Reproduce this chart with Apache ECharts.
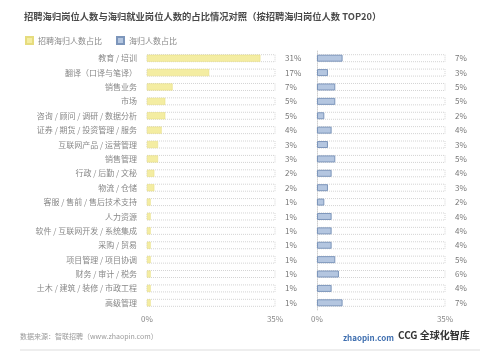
<!DOCTYPE html>
<html>
<head>
<meta charset="utf-8">
<script src="https://cdn.jsdelivr.net/npm/echarts@6/dist/echarts.min.js"></script>
<style>
  html, body { margin: 0; padding: 0; background: #fff; }
  #main { width: 500px; height: 362px; }
</style>
</head>
<body>
<div id="main"></div>
<script>
// 岗位类别（按招聘海归岗位人数 TOP）
var categories = [
  '教育 / 培训', '翻译（口译与笔译）', '销售业务', '市场',
  '咨询 / 顾问 / 调研 / 数据分析', '证券 / 期货 / 投资管理 / 服务',
  '互联网产品 / 运营管理', '销售管理', '行政 / 后勤 / 文秘',
  '物流 / 仓储', '客服 / 售前 / 售后技术支持', '人力资源',
  '软件 / 互联网开发 / 系统集成', '采购 / 贸易', '项目管理 / 项目协调',
  '财务 / 审计 / 税务', '土木 / 建筑 / 装修 / 市政工程', '高级管理'
];
// 招聘海归人数占比 (%)
var recruitShare = [31, 17, 7, 5, 5, 4, 3, 3, 2, 2, 1, 1, 1, 1, 1, 1, 1, 1];
// 海归人数占比 (%)
var returneeShare = [7, 3, 5, 5, 2, 4, 3, 5, 4, 3, 2, 4, 4, 4, 5, 6, 4, 7];
var axisTicks = [0, 35];

var font = '"Noto Sans CJK SC", "Noto Sans", sans-serif';
var chart = echarts.init(document.getElementById('main'));

function pct(v) { return v + '%'; }

var bgStyle = {
  color: 'rgba(255,255,255,0)',
  borderColor: '#d4d4d4',
  borderWidth: 1,
  borderType: 'dotted'
};

var option = {
  backgroundColor: '#fff',
  textStyle: { fontFamily: font },
  title: {
    text: '招聘海归岗位人数与海归就业岗位人数的占比情况对照（按招聘海归岗位人数 TOP20）',
    left: 19,
    top: 7,
    textStyle: { fontSize: 9.3, fontWeight: 'bold', color: '#4a4a4a', fontFamily: font }
  },
  legend: {
    left: 20,
    top: 31,
    itemWidth: 7,
    itemHeight: 7,
    itemGap: 14,
    icon: 'rect',
    textStyle: { fontSize: 8, color: '#888', fontFamily: font },
    data: ['招聘海归人数占比', '海归人数占比']
  },
  grid: [
    { left: 147, width: 128, top: 51, height: 259 },
    { left: 317, width: 128, top: 51, height: 259 }
  ],
  xAxis: [
    {
      gridIndex: 0, type: 'value', min: axisTicks[0], max: axisTicks[1],
      splitLine: { show: false }, axisLine: { show: false }, axisTick: { show: false },
      axisLabel: { customValues: axisTicks, formatter: pct, fontSize: 8, color: '#888', margin: 5 }
    },
    {
      gridIndex: 1, type: 'value', min: axisTicks[0], max: axisTicks[1],
      splitLine: { show: false }, axisLine: { show: false }, axisTick: { show: false },
      axisLabel: { customValues: axisTicks, formatter: pct, fontSize: 8, color: '#888', margin: 5 }
    }
  ],
  yAxis: [
    {
      gridIndex: 0, type: 'category', inverse: true, data: categories,
      axisLine: { show: false }, axisTick: { show: false },
      axisLabel: { fontSize: 8, color: '#888', margin: 10 }
    },
    {
      gridIndex: 0, type: 'category', inverse: true, position: 'right',
      data: recruitShare.map(pct),
      axisLine: { show: false }, axisTick: { show: false },
      axisLabel: { fontSize: 8, color: '#777', margin: 10, align: 'left' }
    },
    {
      gridIndex: 1, type: 'category', inverse: true, data: categories,
      offset: 8,
      axisLine: { show: true, lineStyle: { color: '#cfcfcf', type: 'dotted' } },
      axisTick: { show: false },
      axisLabel: { show: false }
    },
    {
      gridIndex: 1, type: 'category', inverse: true, position: 'right',
      data: returneeShare.map(pct),
      axisLine: { show: false }, axisTick: { show: false },
      axisLabel: { fontSize: 8, color: '#777', margin: 10, align: 'left' }
    }
  ],
  series: [
    {
      name: '招聘海归人数占比',
      type: 'bar',
      xAxisIndex: 0,
      yAxisIndex: 0,
      barWidth: 7,
      data: recruitShare,
      itemStyle: { color: '#f4eda2', borderColor: '#e6dc7e', borderWidth: 0.5 },
      showBackground: true,
      backgroundStyle: bgStyle,
      silent: true
    },
    {
      name: '海归人数占比',
      type: 'bar',
      xAxisIndex: 1,
      yAxisIndex: 2,
      barWidth: 7,
      data: returneeShare,
      itemStyle: { color: '#b4c6e0', borderColor: '#7d96bb', borderWidth: 1 },
      showBackground: true,
      backgroundStyle: bgStyle,
      silent: true
    }
  ],
  graphic: [
    {
      type: 'text', left: 20, top: 333,
      style: { text: '数据来源：智联招聘（www.zhaopin.com）', fontSize: 7, fill: '#999', fontFamily: font }
    },
    {
      type: 'text', left: 343, top: 334,
      style: { text: 'zhaopin.com', fontSize: 8, fontWeight: 'bold', fill: '#3f6fb0', fontFamily: font }
    },
    {
      type: 'text', left: 398, top: 330,
      style: { text: 'CCG 全球化智库', fontSize: 10, fontWeight: 'bold', fill: '#333', fontFamily: font }
    },
    {
      type: 'line', shape: { x1: 20, y1: 350, x2: 480, y2: 350 },
      style: { stroke: '#ddd', lineWidth: 1 }
    }
  ]
};

chart.setOption(option);
window.addEventListener('resize', function () {
  chart.resize();
});
</script>
</body>
</html>
